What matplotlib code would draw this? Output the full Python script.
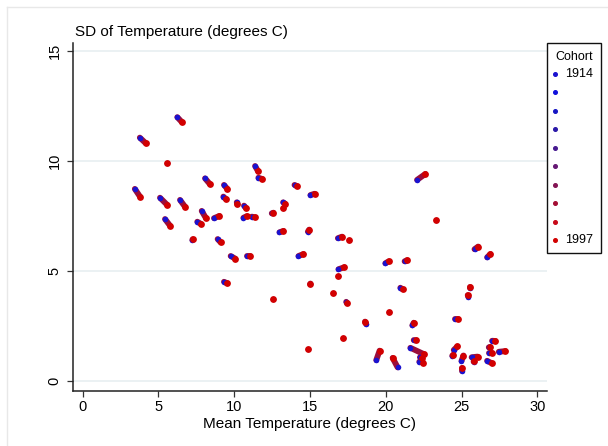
import matplotlib
matplotlib.use("Agg")
import matplotlib.pyplot as plt
from matplotlib.lines import Line2D
from matplotlib.patches import Rectangle
from matplotlib.collections import LineCollection

plt.rcParams['font.family'] = ['Liberation Sans', 'DejaVu Sans']

# first (1914) and last (1997) cohort position of every country cluster
mean_1914 = [6.25, 3.78, 5.55, 8.08, 9.33, 9.29, 3.45, 5.11, 6.43, 7.86,
             7.57, 8.67, 10.17, 10.65, 10.61, 11.16, 5.44, 7.24, 8.91, 11.38,
             11.60, 13.98, 15.03, 13.23, 13.25, 12.48, 12.99, 14.86, 16.84, 17.55,
             9.77, 10.83, 14.24, 16.88, 16.84, 9.33, 15.01, 16.55, 17.39, 12.55,
             18.71, 17.17, 14.86, 19.97, 21.24, 20.96, 20.19, 21.75, 21.84, 22.06,
             23.34, 25.85, 26.68, 25.58, 25.45, 24.59, 21.62, 22.21, 22.25, 19.37,
             20.78, 24.48, 24.38, 24.99, 25.02, 25.66, 25.79, 26.79, 26.79, 26.68,
             27.01, 27.45]
sd_1914 = [11.99, 11.06, 9.90, 9.21, 8.91, 8.38, 8.73, 8.33, 8.23, 7.73,
           7.24, 7.40, 8.12, 7.97, 7.42, 7.47, 7.36, 6.41, 6.45, 9.77,
           9.24, 8.91, 8.45, 8.12, 7.88, 7.62, 6.76, 6.79, 6.49, 6.42,
           5.68, 5.70, 5.68, 5.08, 4.77, 4.51, 4.41, 4.01, 3.60, 3.73,
           2.58, 1.95, 1.47, 5.35, 5.44, 4.24, 3.12, 2.53, 1.86, 9.14,
           7.32, 5.99, 5.62, 4.25, 3.82, 2.80, 1.51, 0.88, 1.08, 0.95,
           0.62, 1.41, 1.15, 0.91, 0.47, 1.08, 0.88, 1.53, 1.29, 0.92,
           1.83, 1.33]
mean_1997 = [6.56, 4.18, 5.55, 8.41, 9.55, 9.47, 3.79, 5.59, 6.76, 8.14,
             7.79, 9.02, 10.21, 10.79, 10.83, 11.38, 5.77, 7.26, 9.11, 11.56,
             11.86, 14.13, 15.30, 13.36, 13.25, 12.59, 13.25, 14.95, 17.11, 17.59,
             10.08, 11.05, 14.57, 17.26, 16.84, 9.55, 15.03, 16.55, 17.43, 12.55,
             18.63, 17.17, 14.86, 20.19, 21.40, 21.11, 20.19, 21.84, 22.01, 22.61,
             23.34, 26.09, 26.90, 25.58, 25.40, 24.75, 22.52, 22.46, 22.38, 19.59,
             20.45, 24.72, 24.45, 25.12, 25.02, 26.05, 25.80, 26.86, 27.01, 27.01,
             27.23, 27.89]
sd_1997 = [11.76, 10.80, 9.90, 8.94, 8.73, 8.26, 8.38, 8.00, 7.92, 7.40,
           7.15, 7.50, 8.03, 7.85, 7.49, 7.44, 7.06, 6.44, 6.30, 9.55,
           9.18, 8.86, 8.51, 8.06, 7.85, 7.65, 6.82, 6.88, 6.56, 6.42,
           5.56, 5.70, 5.77, 5.17, 4.77, 4.44, 4.43, 4.01, 3.56, 3.73,
           2.70, 1.95, 1.47, 5.44, 5.49, 4.17, 3.12, 2.65, 1.85, 9.41,
           7.32, 6.11, 5.77, 4.29, 3.90, 2.80, 1.22, 0.84, 1.04, 1.38,
           1.05, 1.57, 1.20, 1.16, 0.58, 1.11, 0.93, 1.55, 1.29, 0.80,
           1.82, 1.36]

cohort_labels = ['1914', '', '', '', '', '', '', '', '', '1997']
cohort_colors = ['#1a12d0', '#1010dc', '#1616c4', '#2a18a8', '#481a90',
                 '#661874', '#841454', '#a40e34', '#c80818', '#d20000']

x_ticks = [0, 5, 10, 15, 20, 25, 30]
y_ticks = [0, 5, 10, 15]

W, H = 608, 446
fig = plt.figure(figsize=(W / 100, H / 100), dpi=100)

def fx(px):
    return px / W

def fy(py):
    return 1 - py / H

ax = fig.add_axes([fx(72.5), fy(390.5), fx(547) - fx(72.5), fy(43) - fy(390.5)])

# streak joining each country's first and last cohort
segs = [[(a, b), (c, d)] for a, b, c, d in zip(mean_1914, sd_1914, mean_1997, sd_1997)]
ax.add_collection(LineCollection(segs, colors='#9a0e3c', linewidths=4.2,
                                 capstyle='round', zorder=2))
ax.scatter(mean_1914, sd_1914, s=16, color=cohort_colors[0], linewidths=0, zorder=3)
ax.scatter(mean_1997, sd_1997, s=24, color=cohort_colors[-1], linewidths=0, zorder=4)

ax.set_xlim(-0.66, 30.63)
ax.set_ylim(-0.43, 15.36)
ax.set_xticks(x_ticks)
ax.set_yticks(y_ticks)
ax.grid(axis='y', color='#e6eef0', linewidth=1.1, zorder=0)
ax.set_axisbelow(True)

for side in ['top', 'right']:
    ax.spines[side].set_visible(False)
for side in ['left', 'bottom']:
    ax.spines[side].set_color('#222222')
    ax.spines[side].set_linewidth(1.1)

ax.tick_params(axis='both', length=4, width=0.9, color='#333333', labelsize=10.5)
ax.tick_params(axis='x', pad=3)
ax.tick_params(axis='y', pad=4)
for lab in ax.get_yticklabels():
    lab.set_rotation(90)
    lab.set_verticalalignment('center')

fig.text(fx(75), fy(32), 'SD of Temperature (degrees C)', fontsize=11,
         ha='left', va='center')
fig.text(fx(309.75), fy(424), 'Mean Temperature (degrees C)', fontsize=11,
         ha='center', va='center')

# legend box, drawn by hand
fig.patches.append(Rectangle((fx(547), fy(253)), fx(601) - fx(547), fy(43) - fy(253),
                             transform=fig.transFigure, fill=False,
                             edgecolor='#111111', linewidth=1.0))
fig.text(fx(574), fy(57), 'Cohort', fontsize=9, ha='center', va='center')
for i, (lab, col) in enumerate(zip(cohort_labels, cohort_colors)):
    yy = 73.7 + i * 18.5
    fig.lines.append(Line2D([fx(555)], [fy(yy)], transform=fig.transFigure,
                            marker='o', markersize=2.6, color=col, linestyle=''))
    if lab:
        fig.text(fx(565), fy(yy), lab, fontsize=9, ha='left', va='center')

# faint outer frame
fig.lines.append(Line2D([fx(7), fx(7)], [fy(7), 0], transform=fig.transFigure,
                        color='#e8e8e8', linewidth=1))
fig.lines.append(Line2D([fx(7), 1], [fy(7), fy(7)], transform=fig.transFigure,
                        color='#e8e8e8', linewidth=1))

fig.savefig('out.png', dpi=100)
